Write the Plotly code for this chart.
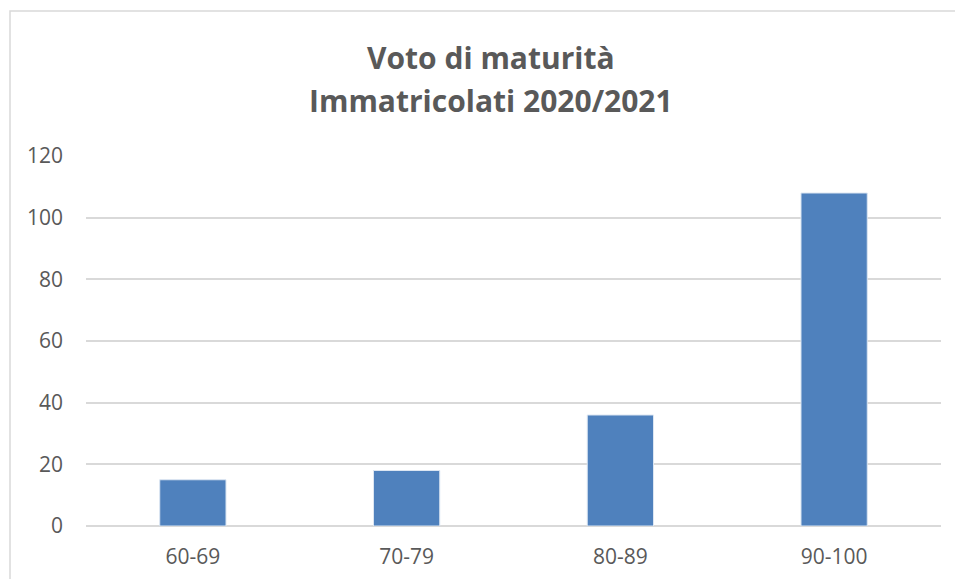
import plotly.graph_objects as go

categories = ["60-69", "70-79", "80-89", "90-100"]
values = [15, 18, 36, 108]
title_line1 = "Voto di maturità"
title_line2 = "Immatricolati 2020/2021"
y_ticks = [0, 20, 40, 60, 80, 100, 120]

FONT = "Open Sans"
GREY = "#595959"

fig = go.Figure(go.Bar(
    x=categories, y=values,
    marker=dict(color="#4f81bd", line=dict(color="#dce6f2", width=1)),
    width=0.31,
))

W, H = 955, 579
L, R, T, B = 86, 14, 156, 53
pw, ph = W - L - R, H - T - B

def px_x(p):
    return (p - L) / pw

def px_y(p):
    return (H - B - p) / ph

fig.update_layout(
    width=W, height=H,
    margin=dict(l=L, r=R, t=T, b=B, autoexpand=False),
    paper_bgcolor="white", plot_bgcolor="white",
    showlegend=False,
    font=dict(family=FONT, color=GREY, size=21),
    xaxis=dict(showgrid=False, showline=False, ticks="", ticklabelstandoff=16,
               automargin=False, tickfont=dict(size=21, color=GREY)),
    yaxis=dict(range=[0, 120], tickvals=y_ticks, showgrid=True,
               gridcolor="#d9d9d9", gridwidth=1.5, zeroline=True,
               zerolinecolor="#d9d9d9", zerolinewidth=1.5, showline=False,
               automargin=False,
               ticks="", ticklabelstandoff=22, tickfont=dict(size=21, color=GREY)),
    shapes=[dict(type="rect", xref="paper", yref="paper",
                 x0=px_x(10), x1=px_x(W + 60), y0=px_y(H + 60), y1=px_y(11),
                 line=dict(color="#d9d9d9", width=1.5), fillcolor="rgba(0,0,0,0)",
                 layer="below")],
    annotations=[
        dict(text="<b>" + title_line1 + "</b>", xref="paper", yref="paper",
             x=px_x(491), y=px_y(57), xanchor="center", yanchor="middle",
             showarrow=False, font=dict(family=FONT, size=30, color=GREY)),
        dict(text="<b>" + title_line2 + "</b>", xref="paper", yref="paper",
             x=px_x(491), y=px_y(101), xanchor="center", yanchor="middle",
             showarrow=False, font=dict(family=FONT, size=30, color=GREY)),
    ],
)

fig.write_html("out.html", config={"displayModeBar": False},
               post_script="document.body.style.margin='0';document.body.style.overflow='hidden';")
